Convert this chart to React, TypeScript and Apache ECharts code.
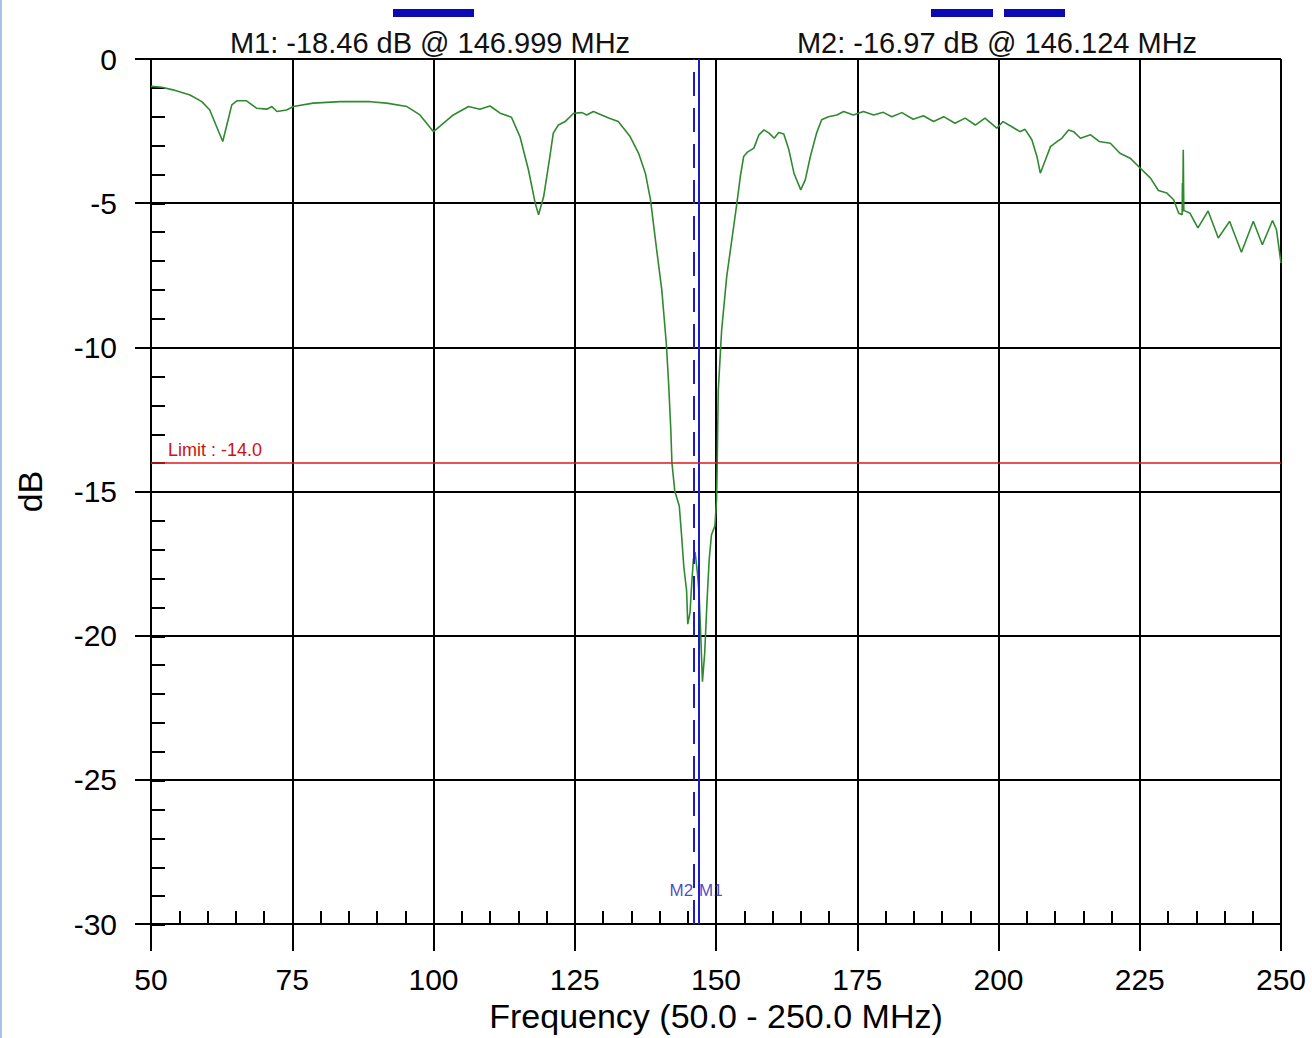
import React, { useEffect, useRef } from "react";
import * as echarts from "echarts";

// Frequency sweep (MHz) and measured return loss (dB)
const freqMHz = [
  50.0, 51.9, 53.9, 56.9, 59.0, 60.4, 61.6, 62.7, 63.5, 64.3, 65.2, 66.9, 68.7, 70.5, 71.4, 72.3, 74.0,
  75.2, 78.7, 83.5, 88.8, 91.7, 95.3, 97.6, 100.0, 101.1, 103.5, 106.2, 108.2, 110.0, 111.8, 113.8,
  115.3, 116.8, 118.0, 118.6, 119.5, 120.6, 121.2, 122.1, 123.3, 124.8, 126.3, 127.1, 128.3, 131.0,
  132.7, 134.8, 136.3, 137.5, 138.4, 139.5, 140.4, 141.2, 141.6, 142.0, 142.2, 142.7, 143.5, 143.9,
  144.3, 144.8, 145.0, 145.4, 145.7, 146.0, 146.3, 146.7, 147.0, 147.3, 147.6, 148.0, 148.4, 148.8,
  149.2, 149.8, 150.1, 150.2, 150.4, 151.0, 151.9, 152.8, 153.7, 154.3, 154.9, 155.5, 156.7, 157.6,
  158.5, 159.4, 160.3, 161.1, 162.0, 162.9, 163.8, 165.0, 165.8, 166.7, 167.8, 168.7, 169.9, 171.4,
  172.6, 174.3, 176.1, 177.9, 179.6, 181.1, 182.9, 184.9, 186.7, 188.5, 190.3, 192.3, 194.1, 195.9,
  197.6, 199.7, 200.8, 202.3, 203.8, 204.7, 205.9, 206.8, 207.4, 208.3, 209.2, 210.4, 211.2, 212.4,
  213.3, 214.5, 216.3, 217.8, 219.8, 221.5, 223.3, 225.1, 226.9, 228.3, 229.8, 231.0, 231.9, 232.5,
  232.55, 232.6, 232.7, 232.8, 233.9, 235.3, 237.1, 238.9, 240.9, 243.0, 245.1, 246.7, 248.5, 249.2,
  250.0,
];
const returnLossDb = [
  -0.95, -0.98, -1.07, -1.25, -1.48, -1.77, -2.34, -2.86, -2.23, -1.59, -1.45, -1.45, -1.71, -1.74,
  -1.65, -1.82, -1.77, -1.65, -1.53, -1.48, -1.48, -1.53, -1.65, -1.94, -2.52, -2.34, -1.94, -1.65,
  -1.74, -1.63, -1.88, -2.02, -2.69, -3.84, -5.0, -5.4, -4.77, -3.38, -2.57, -2.29, -2.17, -1.88,
  -1.86, -1.94, -1.82, -2.05, -2.17, -2.69, -3.27, -3.96, -4.88, -6.62, -8.0, -9.85, -11.2, -12.85,
  -14.0, -14.98, -15.5, -16.5, -17.6, -18.45, -19.6, -19.2, -18.2, -17.35, -17.1, -17.8, -18.5, -20.0,
  -21.6, -20.6, -18.85, -17.35, -16.5, -16.2, -15.3, -14.2, -11.5, -9.4, -7.54, -6.27, -5.0, -4.08,
  -3.38, -3.24, -3.09, -2.63, -2.46, -2.57, -2.75, -2.55, -2.6, -3.15, -3.96, -4.54, -4.19, -3.38,
  -2.57, -2.11, -2.0, -1.94, -1.82, -1.94, -1.82, -1.94, -1.85, -2.0, -1.86, -2.09, -1.97, -2.17,
  -2.0, -2.23, -2.05, -2.29, -2.05, -2.4, -2.17, -2.34, -2.52, -2.44, -2.8, -3.38, -3.96, -3.5, -3.04,
  -2.86, -2.75, -2.46, -2.52, -2.75, -2.63, -2.86, -2.92, -3.27, -3.44, -3.79, -4.13, -4.56, -4.65,
  -4.88, -5.35, -5.4, -4.3, -5.3, -3.15, -5.25, -5.35, -5.86, -5.27, -6.21, -5.63, -6.7, -5.63, -6.44,
  -5.6, -5.92, -7.08,
];

// Markers
const markerNames = ["M1", "M2"];
const markerFreqs = [146.999, 146.124];
const markerDb = [-18.46, -16.97];
const markerLabelDb = -28.85;

// Limit line
const limitDb = -14.0;

// Axis ranges
const xMin = 50;
const xMax = 250;
const xMajor = 25;
const xMinor = 5;
const yMin = -30;
const yMax = 0;
const yMajor = 5;
const yMinor = 1;

const FONT = "'Liberation Sans', Arial, sans-serif";
const TRACE = "#2f8a2f";
const BLUE = "#1c1cc8";

export default function App() {
  const ref = useRef<HTMLDivElement>(null);

  useEffect(() => {
    document.body.style.margin = "0";
    if (!ref.current) return;
    const chart = echarts.init(ref.current, null, { renderer: "svg" });

    const trace = freqMHz.map((f, i) => [f, returnLossDb[i]]);
    const headerText = (i: number) =>
      `${markerNames[i]}: ${markerDb[i].toFixed(2)} dB @ ${markerFreqs[i].toFixed(3)} MHz`;
    const gridRect = { left: 151, top: 59, right: 31, bottom: 113, containLabel: false };

    const option = {
      animation: false,
      backgroundColor: "#ffffff",
      textStyle: { fontFamily: FONT },
      grid: [gridRect, { ...gridRect }],
      xAxis: [
        {
          type: "value",
          gridIndex: 0,
          position: "bottom",
          min: xMin,
          max: xMax,
          interval: xMajor,
          name: "Frequency (50.0 - 250.0 MHz)",
          nameLocation: "middle",
          nameGap: 75,
          nameTextStyle: { fontSize: 34, color: "#000", fontFamily: FONT },
          axisLine: { show: true, onZero: false, lineStyle: { color: "#000", width: 2 } },
          axisTick: { show: true, length: 27, lineStyle: { color: "#000", width: 2 } },
          axisLabel: { fontSize: 30, color: "#000", margin: 40, fontFamily: FONT },
          splitLine: { show: true, lineStyle: { color: "#000", width: 2 } },
        },
        {
          type: "value",
          gridIndex: 1,
          position: "bottom",
          min: xMin,
          max: xMax,
          interval: xMinor,
          axisLine: { show: false, onZero: false },
          axisTick: { show: true, inside: true, length: 14, lineStyle: { color: "#000", width: 2 } },
          axisLabel: { show: false },
          splitLine: { show: false },
        },
      ],
      yAxis: [
        {
          type: "value",
          gridIndex: 0,
          position: "left",
          min: yMin,
          max: yMax,
          interval: yMajor,
          name: "dB",
          nameLocation: "middle",
          nameGap: 104,
          nameTextStyle: { fontSize: 34, color: "#000", fontFamily: FONT },
          axisLine: { show: true, onZero: false, lineStyle: { color: "#000", width: 2 } },
          axisTick: { show: true, length: 16, lineStyle: { color: "#000", width: 2 } },
          axisLabel: { fontSize: 30, color: "#000", margin: 34, fontFamily: FONT },
          splitLine: { show: true, lineStyle: { color: "#000", width: 2 } },
        },
        {
          type: "value",
          gridIndex: 1,
          position: "left",
          min: yMin,
          max: yMax,
          interval: yMinor,
          axisLine: { show: false, onZero: false },
          axisTick: { show: true, inside: true, length: 14, lineStyle: { color: "#000", width: 2 } },
          axisLabel: { show: false },
          splitLine: { show: false },
        },
      ],
      series: [
        {
          type: "line",
          xAxisIndex: 0,
          yAxisIndex: 0,
          data: trace,
          showSymbol: false,
          symbol: "none",
          lineStyle: { color: TRACE, width: 1.6 },
          z: 3,
          markLine: {
            silent: true,
            symbol: "none",
            z: 5,
            data: [
              {
                xAxis: markerFreqs[1],
                lineStyle: { color: BLUE, width: 2, type: [24, 12] },
                label: { show: false },
              },
              {
                xAxis: markerFreqs[0],
                lineStyle: { color: BLUE, width: 2, type: "solid" },
                label: { show: false },
              },
              {
                yAxis: limitDb,
                lineStyle: { color: "#e01818", width: 1.5, type: "solid" },
                label: {
                  show: true,
                  position: "insideStartTop",
                  formatter: `Limit : ${limitDb.toFixed(1)}`,
                  color: "#d01010",
                  fontSize: 18,
                  fontFamily: FONT,
                  distance: [17, 4],
                },
              },
            ],
          },
        },
        {
          type: "scatter",
          xAxisIndex: 0,
          yAxisIndex: 0,
          symbolSize: 0,
          silent: true,
          z: 6,
          data: [
            {
              value: [markerFreqs[1], markerLabelDb],
              label: { show: true, position: "left", distance: 1, formatter: markerNames[1] },
            },
            {
              value: [markerFreqs[0], markerLabelDb],
              label: { show: true, position: "right", distance: 0, formatter: markerNames[0] },
            },
          ],
          label: { color: "#1a1ab8", fontSize: 17, fontFamily: FONT },
        },
      ],
      graphic: [
        { type: "rect", shape: { x: 0, y: 0, width: 2, height: 1038 }, style: { fill: "#a9c3e6" } },
        { type: "rect", shape: { x: 393, y: 9, width: 81, height: 8 }, style: { fill: "#0a0ab4" } },
        { type: "rect", shape: { x: 931, y: 9, width: 62, height: 8 }, style: { fill: "#0a0ab4" } },
        { type: "rect", shape: { x: 1004, y: 9, width: 61, height: 8 }, style: { fill: "#0a0ab4" } },
        {
          type: "text",
          x: 430,
          y: 43,
          style: {
            text: headerText(0),
            fontSize: 29,
            fontFamily: FONT,
            fill: "#111",
            textAlign: "center",
            textVerticalAlign: "middle",
          },
        },
        {
          type: "text",
          x: 997,
          y: 43,
          style: {
            text: headerText(1),
            fontSize: 29,
            fontFamily: FONT,
            fill: "#111",
            textAlign: "center",
            textVerticalAlign: "middle",
          },
        },
      ],
    };

    chart.setOption(option as any);
    return () => chart.dispose();
  }, []);

  return (
    <div
      ref={ref}
      style={{ position: "absolute", left: 0, top: 0, width: 1312, height: 1038, background: "#fff" }}
    />
  );
}
